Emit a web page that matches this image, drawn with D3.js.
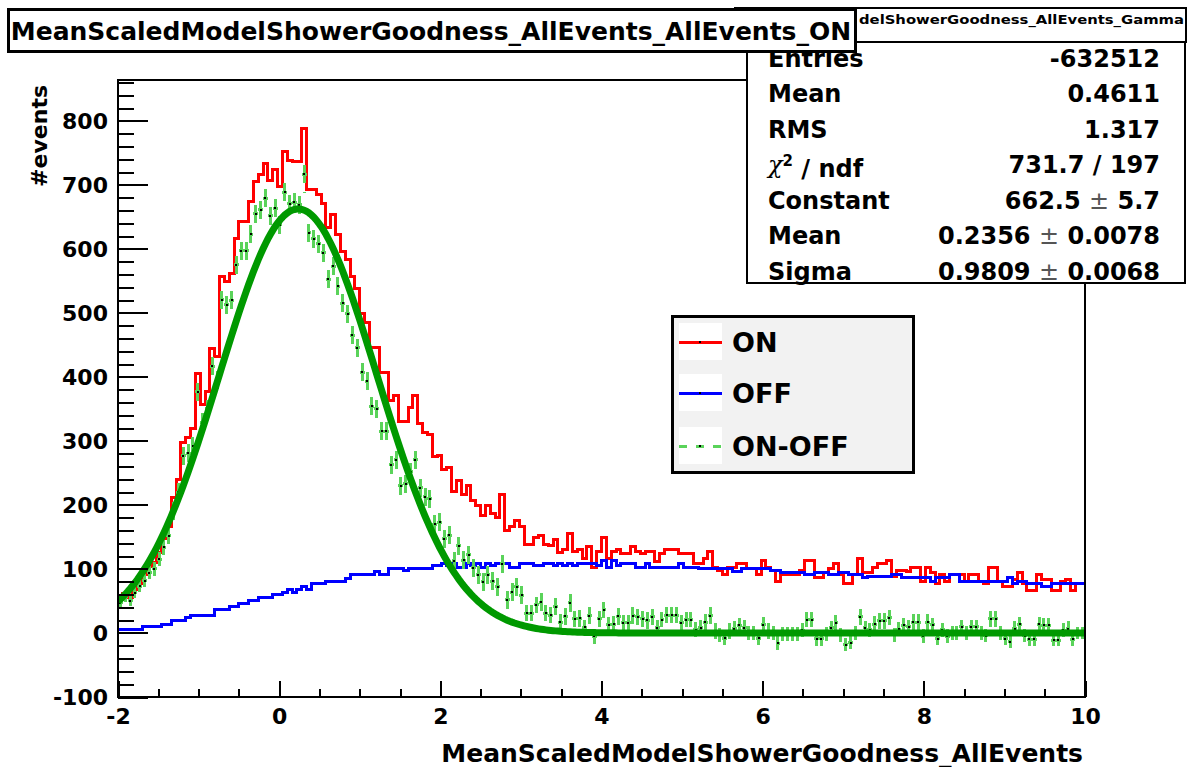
<!DOCTYPE html>
<html><head><meta charset="utf-8">
<script src="https://cdn.jsdelivr.net/npm/d3@7"></script>
<style>
html,body{margin:0;padding:0;background:#fff;}
svg{display:block;}
text{font-family:"DejaVu Sans","Liberation Sans",Arial,sans-serif;font-weight:bold;fill:#000;}
</style>
</head><body>
<svg id="c" width="1188" height="767"></svg>
<script>
// ---------------- data ----------------
const histRange = [-2, 10];
const nBins = 200;
const onCounts = [
 52,62,55,68,78,92,104,110,125,148,
 166,211,240,297,305,320,405,357,378,445,
 432,557,549,562,617,643,643,674,706,716,
 734,707,724,698,753,739,737,737,789,693,
 693,685,671,634,654,623,596,584,557,538,
 499,485,446,446,407,407,363,371,330,330,
 352,371,327,313,310,275,278,255,258,221,
 239,217,230,207,199,183,199,186,180,216,
 160,167,175,167,139,139,149,153,139,136,
 146,125,131,155,127,131,117,135,103,127,
 149,116,127,131,124,124,135,127,124,128,
 128,111,124,131,131,131,124,124,124,108,
 108,117,127,103,97,92,103,103,108,108,
 100,100,92,113,103,97,81,92,92,92,
 92,98,113,113,86,86,94,100,108,92,
 77,77,92,117,94,94,103,108,108,113,
 89,98,98,96,103,103,81,103,94,77,
 91,81,91,91,91,81,91,91,81,77,
 103,103,81,72,72,84,95,77,67,67,
 91,84,84,66,66,81,84,67,77,77];
const offCounts = [
 5,5,5,5,5,10,10,10,10,14,
 14,20,20,20,24,28,28,28,28,28,
 36,36,36,42,42,46,46,51,51,55,
 55,55,60,60,64,68,64,68,72,68,
 77,77,77,81,81,81,81,85,92,92,
 92,92,92,96,92,92,100,100,100,97,
 100,100,100,100,100,105,105,108,105,108,
 103,103,108,105,108,103,108,105,108,108,
 108,103,103,108,108,108,105,105,108,108,
 105,108,105,108,105,108,108,108,108,105,
 113,103,113,105,108,108,108,102,102,108,
 103,103,103,103,103,103,108,103,103,103,
 100,100,100,100,100,100,100,96,96,100,
 100,100,100,100,100,97,97,94,94,94,
 94,94,92,92,95,95,95,92,92,95,
 95,92,92,92,86,89,89,89,89,89,
 92,92,86,86,86,86,86,86,81,86,
 86,86,91,91,81,81,81,81,81,81,
 81,81,81,81,86,77,81,81,77,77,
 77,72,72,77,77,77,77,77,77,77];
const onOffCounts = [
 47,57,50,63,73,82,94,100,115,134,
 152,191,220,277,281,292,377,329,350,417,
 396,521,513,520,575,597,597,623,655,661,
 679,652,664,638,689,671,673,669,717,625,
 616,608,594,553,573,542,515,499,465,446,
 407,393,354,350,315,315,263,271,230,233,
 252,271,227,213,210,170,173,147,153,113,
 136,114,122,102,91,80,91,81,72,108,
 52,64,72,59,31,31,44,48,31,28,
 41,17,26,47,22,23,9,27,-5,22,
 36,13,14,26,16,16,27,25,22,20,
 25,8,21,28,28,28,16,21,21,5,
 8,17,27,3,-3,-8,3,7,12,8,
 0,0,-8,13,3,0,-16,-2,-2,-2,
 -2,4,21,21,-9,-9,-1,8,16,-3,
 -18,-15,0,25,8,5,14,19,19,24,
 -3,6,12,10,17,17,-5,17,13,-9,
 5,-5,0,0,10,0,10,10,0,-4,
 22,22,0,-9,-14,7,14,-4,-10,-10,
 14,12,12,-11,-11,4,7,-10,0,0];
const onOffErrors = [
 8,8,8,9,9,10,10,11,11,12,
 13,15,16,17,18,18,20,19,20,21,
 21,24,24,24,25,26,26,26,27,27,
 27,27,27,27,28,28,28,28,29,27,
 27,27,26,26,26,25,25,25,24,24,
 23,23,22,22,21,21,20,20,19,19,
 20,20,19,19,18,18,18,17,17,16,
 17,16,16,15,15,15,15,15,15,16,
 14,14,14,14,13,13,13,14,13,13,
 13,12,13,14,13,13,12,13,12,13,
 13,12,13,13,12,12,13,13,12,13,
 13,12,12,13,13,13,12,12,12,12,
 12,12,13,12,11,11,12,12,12,12,
 11,11,11,12,12,11,11,11,11,11,
 11,11,12,12,11,11,11,11,12,11,
 10,10,11,12,11,11,12,12,12,12,
 11,11,11,11,12,12,11,12,11,10,
 11,11,11,11,11,11,11,11,11,10,
 12,12,11,10,10,11,11,10,10,10,
 11,11,11,10,10,11,11,10,10,10];
// Gaussian fit parameters (from the statistics box)
const fitConstant = 662.5, fitMean = 0.2356, fitSigma = 0.9809;

const xTicks = [-2, 0, 2, 4, 6, 8, 10];
const yTicks = [-100, 0, 100, 200, 300, 400, 500, 600, 700, 800];
const yDomain = [-100, 864];
const legendLabels = ["ON", "OFF", "ON-OFF"];
const statsLabels = ["Entries", "Mean", "RMS", "chi2", "Constant", "Mean", "Sigma"];
const statsValues = [["-632512"], ["0.4611"], ["1.317"], ["731.7 / 197"], ["662.5", "5.7"], ["0.2356", "0.0078"], ["0.9809", "0.0068"]];
const titleText = "MeanScaledModelShowerGoodness_AllEvents_AllEvents_ON";
const title2Visible = "delShowerGoodness_AllEvents_Gamma";
const xTitle = "MeanScaledModelShowerGoodness_AllEvents";
const yTitle = "#events";

// ---------------- drawing ----------------
const svg = d3.select("#c");
const L = 118, R = 1085, T = 80, B = 697;
const x = d3.scaleLinear().domain(histRange).range([L, R]);
const y = d3.scaleLinear().domain(yDomain).range([B, T]);
const binW = (histRange[1] - histRange[0]) / nBins;
const lowEdge = i => histRange[0] + i * binW;

const COL_ON = "#ff0000", COL_OFF = "#0000ff", COL_DIFF = "#5ad35a", COL_FIT = "#009900";

svg.append("defs").append("clipPath").attr("id", "clip")
  .append("rect").attr("x", L).attr("y", T).attr("width", R - L).attr("height", B - T);

const plot = svg.append("g").attr("clip-path", "url(#clip)");

// step histograms
function stepPoints(arr) {
  const pts = arr.map((v, i) => [lowEdge(i), v]);
  pts.push([histRange[1], arr[arr.length - 1]]);
  return pts;
}
const stepLine = d3.line().x(d => x(d[0])).y(d => y(d[1])).curve(d3.curveStepAfter);

plot.append("path").attr("d", stepLine(stepPoints(onCounts)))
  .attr("fill", "none").attr("stroke", COL_ON).attr("stroke-width", 3).attr("shape-rendering", "crispEdges");
plot.append("path").attr("d", stepLine(stepPoints(offCounts)))
  .attr("fill", "none").attr("stroke", COL_OFF).attr("stroke-width", 3).attr("shape-rendering", "crispEdges");

// ON-OFF points with error bars (dashed)
const gDiff = plot.append("g").attr("stroke", COL_DIFF).attr("stroke-width", 3)
  .attr("stroke-dasharray", "8,9").attr("shape-rendering", "crispEdges");
onOffCounts.forEach((v, i) => {
  const xc = x(lowEdge(i) + binW / 2), yc = y(v);
  const x0 = x(lowEdge(i)), x1 = x(lowEdge(i + 1));
  const yu = y(v + onOffErrors[i]), yd = y(v - onOffErrors[i]);
  gDiff.append("line").attr("x1", x0).attr("x2", xc - 1).attr("y1", yc).attr("y2", yc);
  gDiff.append("line").attr("x1", x1).attr("x2", xc + 1).attr("y1", yc).attr("y2", yc);
  gDiff.append("line").attr("x1", xc).attr("x2", xc).attr("y1", yc - 1).attr("y2", yu);
  gDiff.append("line").attr("x1", xc).attr("x2", xc).attr("y1", yc + 1).attr("y2", yd);
});
plot.append("g").selectAll("rect").data(onOffCounts).join("rect")
  .attr("x", (d, i) => Math.round(x(lowEdge(i) + binW / 2)) - 1)
  .attr("y", d => Math.round(y(d)) - 1)
  .attr("width", 2).attr("height", 2).attr("fill", "#000");

// Gaussian fit curve
const fitX = d3.range(0, 401).map(k => histRange[0] + k * (histRange[1] - histRange[0]) / 400);
const gauss = xv => fitConstant * Math.exp(-0.5 * Math.pow((xv - fitMean) / fitSigma, 2));
plot.append("path")
  .attr("d", d3.line().x(d => x(d)).y(d => y(gauss(d)))(fitX))
  .attr("fill", "none").attr("stroke", COL_FIT).attr("stroke-width", 7);

// axes
const fmt = d => String(d);
const yMinor = d3.range(-100, 864, 20);
const xMinor = d3.range(-2, 10.001, 0.5);

const yAxisMinor = svg.append("g").attr("transform", `translate(${L},0)`)
  .call(d3.axisLeft(y).tickValues(yMinor).tickSize(-16).tickFormat(""));
const yAxis = svg.append("g").attr("transform", `translate(${L},0)`)
  .call(d3.axisLeft(y).tickValues(yTicks).tickSize(-30).tickPadding(10).tickFormat(fmt));
const xAxisMinor = svg.append("g").attr("transform", `translate(0,${B})`)
  .call(d3.axisBottom(x).tickValues(xMinor).tickSize(-8).tickFormat(""));
const xAxis = svg.append("g").attr("transform", `translate(0,${B})`)
  .call(d3.axisBottom(x).tickValues(xTicks).tickSize(-16).tickPadding(11).tickFormat(fmt));
[yAxisMinor, yAxis, xAxisMinor, xAxis].forEach(g => {
  g.select(".domain").remove();
  g.selectAll(".tick line").attr("stroke", "#000").attr("stroke-width", 2).attr("shape-rendering", "crispEdges");
  g.selectAll("text").attr("font-size", 22).attr("font-family", null).attr("fill", "#000");
});

// frame
svg.append("rect").attr("x", L).attr("y", T).attr("width", R - L).attr("height", B - T)
  .attr("fill", "none").attr("stroke", "#000").attr("stroke-width", 2).attr("shape-rendering", "crispEdges");

// axis titles
svg.append("text").attr("x", 1083).attr("y", 762).attr("text-anchor", "end")
  .attr("font-size", 25).text(xTitle);
svg.append("text").attr("transform", "translate(47,85) rotate(-90)").attr("text-anchor", "end")
  .attr("font-size", 22).text(yTitle);

// stats box
const SB = {x: 747, y: 40, w: 438, h: 243};
svg.append("rect").attr("x", SB.x).attr("y", SB.y).attr("width", SB.w).attr("height", SB.h)
  .attr("fill", "#fff").attr("stroke", "#000").attr("stroke-width", 2).attr("shape-rendering", "crispEdges");
statsLabels.forEach((lab, i) => {
  const cy = 58 + i * 35.5;
  const t = svg.append("text").attr("x", 768).attr("y", cy).attr("dy", "0.36em").attr("font-size", 24);
  if (lab === "chi2") {
    t.append("tspan").attr("font-weight", "normal").attr("font-family", "DejaVu Serif").attr("font-style", "italic").text("χ");
    t.append("tspan").attr("dy", "-0.45em").attr("font-size", 15).text("2");
    t.append("tspan").attr("dy", "0.45em").text(" / ndf");
  } else t.text(lab);
  const v = svg.append("text").attr("x", 1160).attr("y", cy).attr("dy", "0.36em").attr("text-anchor", "end").attr("font-size", 24);
  const vals = statsValues[i];
  if (vals.length === 1) v.text(vals[0]);
  else {
    v.append("tspan").text(vals[0] + " ");
    v.append("tspan").attr("font-weight", "normal").attr("fill", "#555").text("±");
    v.append("tspan").text(" " + vals[1]);
  }
});

// second title box (mostly hidden behind the main title)
svg.append("rect").attr("x", 735).attr("y", 8).attr("width", 451).attr("height", 34)
  .attr("fill", "#fff").attr("stroke", "#000").attr("stroke-width", 2).attr("shape-rendering", "crispEdges");
svg.append("text").attr("x", 859).attr("y", 20).attr("dy", "0.36em").attr("font-size", 12)
  .attr("textLength", 325).attr("lengthAdjust", "spacingAndGlyphs").text(title2Visible);

// main title box
svg.append("rect").attr("x", 8).attr("y", 9).attr("width", 847).attr("height", 42)
  .attr("fill", "#fff").attr("stroke", "#000").attr("stroke-width", 3).attr("shape-rendering", "crispEdges");
svg.append("text").attr("x", 431).attr("y", 31).attr("dy", "0.36em").attr("text-anchor", "middle")
  .attr("font-size", 25).text(titleText);

// legend
const LG = {x: 672, y: 316, w: 241, h: 156};
svg.append("rect").attr("x", LG.x).attr("y", LG.y).attr("width", LG.w).attr("height", LG.h)
  .attr("fill", "#f2f2f2").attr("stroke", "#000").attr("stroke-width", 3).attr("shape-rendering", "crispEdges");
const legendColors = [COL_ON, COL_OFF, COL_DIFF];
const legendY = [342, 393, 446];
legendLabels.forEach((lab, i) => {
  const cy = legendY[i];
  svg.append("rect").attr("x", 679).attr("y", cy - 19).attr("width", 43).attr("height", 37).attr("fill", "#fff");
  const ln = svg.append("line").attr("x1", 679).attr("x2", 722).attr("y1", cy).attr("y2", cy)
    .attr("stroke", legendColors[i]).attr("stroke-width", 3).attr("shape-rendering", "crispEdges");
  if (i === 2) ln.attr("stroke-dasharray", "8,9");
  svg.append("rect").attr("x", 699).attr("y", cy - 1).attr("width", 2).attr("height", 2).attr("fill", "#000");
  svg.append("text").attr("x", 732).attr("y", cy).attr("dy", "0.36em").attr("font-size", 27).text(lab);
});
</script>
</body></html>
